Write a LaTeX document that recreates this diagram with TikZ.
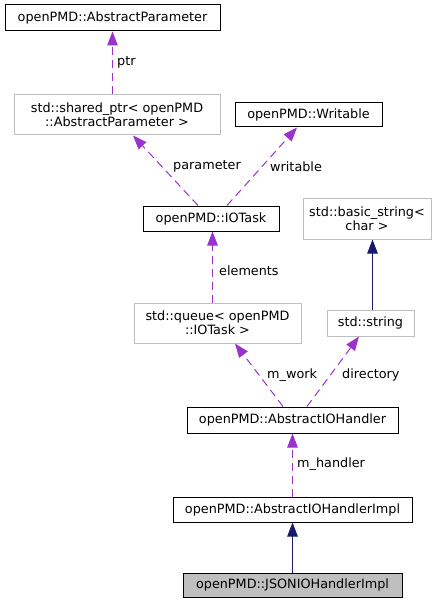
\documentclass[tikz,border=0pt]{standalone}
\usepackage{fontspec}
\setmainfont{DejaVu Sans}
\usetikzlibrary{arrows.meta}
\definecolor{depcol}{HTML}{9A32CD}
\definecolor{inhcol}{HTML}{191970}
\definecolor{stdcol}{HTML}{BFBFBF}
\definecolor{curfill}{HTML}{BFBFBF}
\begin{document}
\begin{tikzpicture}[x=1pt,y=-1pt,
  every node/.style={font=\fontsize{12.8}{14}\selectfont, inner sep=0pt, align=center},
  cls/.style={draw=black, line width=1pt, fill=white},
  stdcls/.style={draw=stdcol, line width=1pt, fill=white},
  curcls/.style={draw=black, line width=1pt, fill=curfill},
  dep/.style={draw=depcol, line width=1pt, dash pattern=on 8pt off 5pt,
    -{Triangle[length=14pt,width=10.5pt,fill=depcol]}},
  inh/.style={draw=inhcol, line width=1pt,
    -{Triangle[length=14pt,width=10.5pt,fill=inhcol]}},
  lbl/.style={anchor=west}]
\useasboundingbox (0,0) rectangle (447,604);

% classes
\node[cls, minimum width=215pt, minimum height=26pt] (ap) at (112.5,18) {openPMD::AbstractParameter};
\node[stdcls, minimum width=206pt, minimum height=40pt] (sp) at (117,115) {std::shared\_ptr< openPMD\\::AbstractParameter >};
\node[cls, minimum width=147pt, minimum height=24pt] (wr) at (308.5,115) {openPMD::Writable};
\node[cls, minimum width=136pt, minimum height=25pt] (task) at (211,218.5) {openPMD::IOTask};
\node[stdcls, minimum width=128pt, minimum height=41pt] (bs) at (367,218.5) {std::basic\_string<\\char >};
\node[stdcls, minimum width=167pt, minimum height=40pt] (q) at (217.5,323) {std::queue< openPMD\\::IOTask >};
\node[stdcls, minimum width=87pt, minimum height=26pt] (str) at (370.5,323) {std::string};
\node[cls, minimum width=211pt, minimum height=26pt] (aioh) at (292.5,420) {openPMD::AbstractIOHandler};
\node[cls, minimum width=239pt, minimum height=25pt] (impl) at (292.5,509.5) {openPMD::AbstractIOHandlerImpl};
\node[curcls, minimum width=219pt, minimum height=24pt] (json) at (292.5,585) {openPMD::JSONIOHandlerImpl};

% member relations
\draw[dep] ([xshift=-4.5pt]sp.north) -- ([xshift=0pt]ap.south);
\node[lbl] (lptr) at (117,62) {ptr};

\draw[dep] ([xshift=-13pt]task.north) -- ([xshift=16pt]sp.south);
\node (lpar) at (207,166) {parameter};

\draw[dep] ([xshift=16pt]task.north) -- ([xshift=-11.5pt]wr.south);
\node[lbl] (lwr) at (270,167) {writable};

\draw[dep] ([xshift=-5pt]q.north) -- ([xshift=1.5pt]task.south);
\node[lbl] (lel) at (219,271) {elements};

\draw[dep] ([xshift=-9.5pt]aioh.north) -- ([xshift=17.5pt]q.south);
\node[lbl] (lwork) at (267,375) {m\_work};

\draw[dep] ([xshift=14.5pt]aioh.north) -- ([xshift=-11.5pt]str.south);
\node[lbl] (ldir) at (342,375) {directory};

\draw[dep] (impl.north) -- (aioh.south);
\node[lbl] (lhan) at (297,464) {m\_handler};

% inheritance
\draw[inh] ([xshift=2pt]str.north) -- ([xshift=5.5pt]bs.south);
\draw[inh] (json.north) -- (impl.south);
\end{tikzpicture}
\end{document}
